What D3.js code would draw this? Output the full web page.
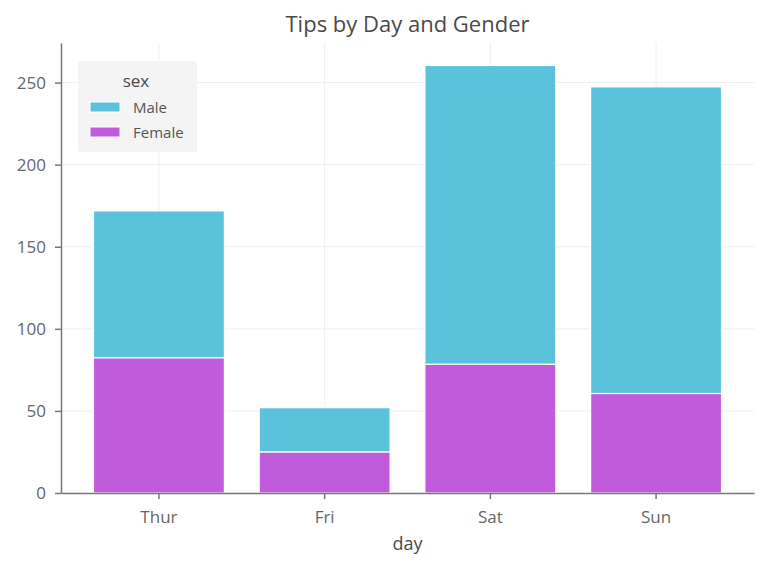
<!DOCTYPE html>
<html>
<head>
<meta charset="utf-8">
<script src="https://cdn.jsdelivr.net/npm/d3@7"></script>
<style>
  body { margin: 0; background: #fff; }
  text { font-family: "Open Sans", sans-serif; }
</style>
</head>
<body>
<div id="vis"></div>
<script>
const FRAME_WIDTH = 768;
const FRAME_HEIGHT = 569;
const MARGINS = {left: 61, right: 14, top: 43, bottom: 76};

// data: total tips by day and gender
const days = ["Thur", "Fri", "Sat", "Sun"];
const sexes = ["Male", "Female"];
const femaleTips = [82.42, 25.03, 78.45, 60.61];
const maleTips = [89.41, 26.93, 181.95, 186.78];
const yTicks = [0, 50, 100, 150, 200, 250];
const colors = {Male: "#5bc2dc", Female: "#c05bdc"};

const VIS_WIDTH = FRAME_WIDTH - MARGINS.left - MARGINS.right;
const VIS_HEIGHT = FRAME_HEIGHT - MARGINS.top - MARGINS.bottom;

const rows = days.map((d, i) => ({day: d, Female: femaleTips[i], Male: maleTips[i]}));
// female at the bottom, male stacked on top
const stacked = d3.stack().keys(["Female", "Male"])(rows);

const MAX_Y = d3.max(rows, (d) => d.Female + d.Male);

const X_SCALE = d3.scaleBand()
                  .domain(days)
                  .range([0, VIS_WIDTH])
                  .paddingInner(0.21)
                  .paddingOuter(0.196);

const Y_SCALE = d3.scaleLinear()
                  .domain([0, MAX_Y * 1.0526])
                  .range([VIS_HEIGHT, 0]);

const FRAME = d3.select("#vis")
                .append("svg")
                  .attr("width", FRAME_WIDTH)
                  .attr("height", FRAME_HEIGHT);

const plot = FRAME.append("g")
                  .attr("transform", "translate(" + MARGINS.left + "," + MARGINS.top + ")");

// grid lines
plot.selectAll(".ygrid")
    .data(yTicks.slice(1))
    .enter()
    .append("line")
      .attr("x1", 0)
      .attr("x2", VIS_WIDTH)
      .attr("y1", (d) => Y_SCALE(d))
      .attr("y2", (d) => Y_SCALE(d))
      .attr("stroke", "#efefef")
      .attr("stroke-width", 1);

plot.selectAll(".xgrid")
    .data(days)
    .enter()
    .append("line")
      .attr("x1", (d) => X_SCALE(d) + X_SCALE.bandwidth() / 2)
      .attr("x2", (d) => X_SCALE(d) + X_SCALE.bandwidth() / 2)
      .attr("y1", 0)
      .attr("y2", VIS_HEIGHT)
      .attr("stroke", "#efefef")
      .attr("stroke-width", 1);

// bars
plot.selectAll(".layer")
    .data(stacked)
    .enter()
    .append("g")
      .attr("fill", (s) => colors[s.key])
    .selectAll("rect")
    .data((s) => s)
    .enter()
    .append("rect")
      .attr("x", (d) => X_SCALE(d.data.day))
      .attr("width", X_SCALE.bandwidth())
      .attr("y", (d) => Y_SCALE(d[1]))
      .attr("height", (d) => Y_SCALE(d[0]) - Y_SCALE(d[1]))
      .attr("stroke", "#fff")
      .attr("stroke-width", 1.2);

// axes
const xAxis = plot.append("g")
    .attr("transform", "translate(0," + VIS_HEIGHT + ")")
    .call(d3.axisBottom(X_SCALE).tickSizeInner(6).tickSizeOuter(0).tickPadding(12));

const yAxis = plot.append("g")
    .call(d3.axisLeft(Y_SCALE).tickValues(yTicks).tickSizeInner(6).tickSizeOuter(0).tickPadding(9));

[xAxis, yAxis].forEach((ax) => {
  ax.attr("font-size", null).attr("font-family", null);
  ax.select(".domain").attr("stroke", "#777").attr("stroke-width", 1.5);
  ax.selectAll(".tick line").attr("stroke", "#777").attr("stroke-width", 1.5);
  ax.selectAll(".tick text")
    .attr("fill", "#666")
    .style("font-size", "17px")
    .style("font-family", "'Open Sans', sans-serif");
});

// titles
FRAME.append("text")
     .attr("x", MARGINS.left + VIS_WIDTH / 2)
     .attr("y", 32)
     .attr("text-anchor", "middle")
     .style("font-size", "22px")
     .attr("fill", "#4a4a4a")
     .text("Tips by Day and Gender");

FRAME.append("text")
     .attr("x", MARGINS.left + VIS_WIDTH / 2)
     .attr("y", 550)
     .attr("text-anchor", "middle")
     .style("font-size", "18px")
     .attr("fill", "#4a4a4a")
     .text("day");

// legend
const legend = FRAME.append("g")
                    .attr("transform", "translate(78,61)");

legend.append("rect")
      .attr("width", 119)
      .attr("height", 91)
      .attr("rx", 2)
      .attr("fill", "#f4f4f4");

legend.append("text")
      .attr("x", 58)
      .attr("y", 26)
      .attr("text-anchor", "middle")
      .style("font-size", "17px")
      .attr("fill", "#4a4a4a")
      .text("sex");

const items = legend.selectAll(".item")
    .data(sexes)
    .enter()
    .append("g")
      .attr("transform", (d, i) => "translate(12," + (41 + i * 25) + ")");

items.append("rect")
     .attr("width", 30)
     .attr("height", 10)
     .attr("fill", (d) => colors[d])
     .attr("stroke", "#fff")
     .attr("stroke-width", 1);

items.append("text")
     .attr("x", 43)
     .attr("y", 11)
     .style("font-size", "15px")
     .attr("fill", "#555")
     .text((d) => d);
</script>
</body>
</html>
